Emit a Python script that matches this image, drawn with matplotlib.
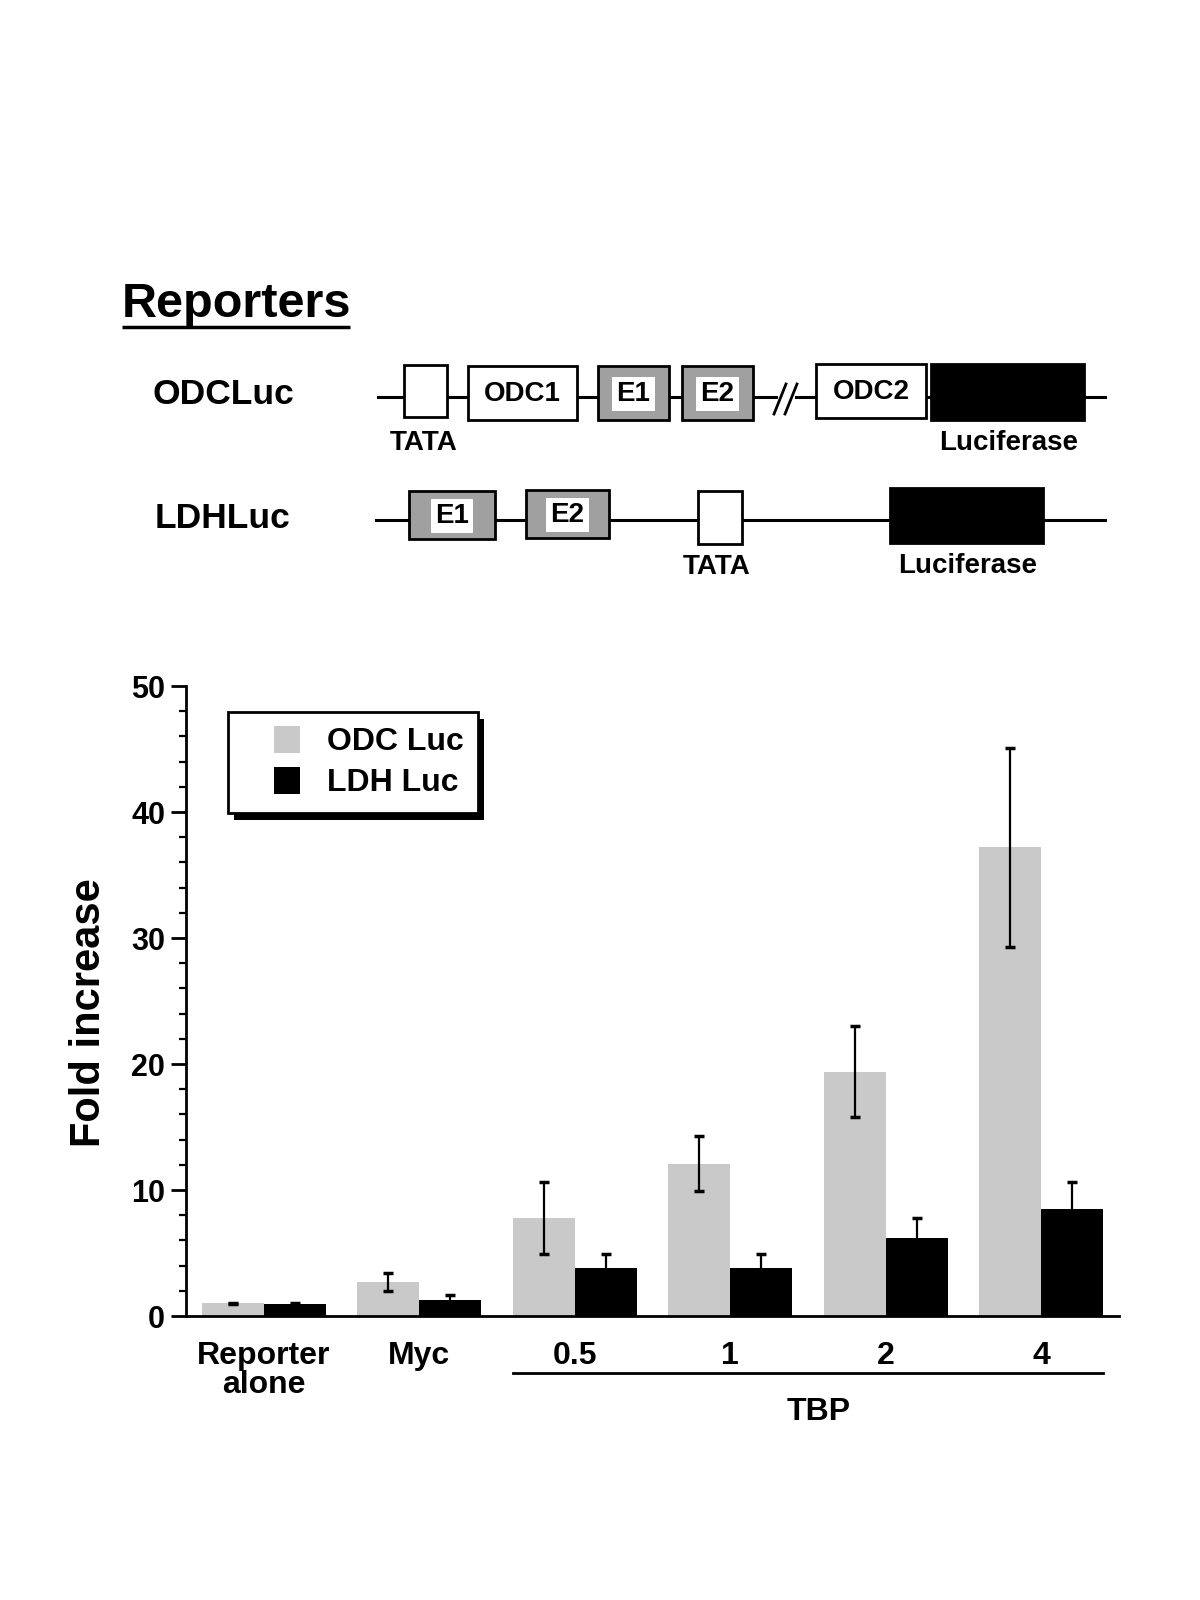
import numpy as np
import matplotlib.pyplot as plt
from matplotlib.patches import Rectangle
from matplotlib.ticker import MultipleLocator
from matplotlib.transforms import IdentityTransform, blended_transform_factory
from matplotlib.legend_handler import HandlerPatch

plt.rcParams['font.family'] = ['Liberation Sans', 'DejaVu Sans']
plt.rcParams['font.weight'] = 'bold'
plt.rcParams['axes.labelweight'] = 'bold'

# chart data
groups = ['Reporter\nalone', 'Myc', '0.5', '1', '2', '4']
odc = [1.0, 2.7, 7.8, 12.1, 19.4, 37.2]
odc_err = [0.05, 0.7, 2.85, 2.2, 3.6, 7.9]
ldh = [0.95, 1.3, 3.8, 3.8, 6.2, 8.5]
ldh_err = [0.08, 0.4, 1.15, 1.15, 1.55, 2.1]
series = ['ODC Luc', 'LDH Luc']

# reporter schematic (pixel layout): x0, x1, y0, y1, fill, label
odc_parts = [(404, 447, 365, 417, 'white', ''),
             (468, 577, 366, 420, 'white', 'ODC1'),
             (598, 669, 366, 420, 'gray', 'E1'),
             (682, 753, 366, 420, 'gray', 'E2'),
             (816, 926, 364, 418, 'white', 'ODC2'),
             (931, 1084, 364, 420, 'black', '')]
ldh_parts = [(409, 495, 491, 539, 'gray', 'E1'),
             (526, 609, 490, 538, 'gray', 'E2'),
             (698, 742, 491, 544, 'white', ''),
             (890, 1043, 488, 543, 'black', '')]
fills = {'white': 'white', 'gray': '#a0a0a0', 'black': 'black'}

fig = plt.figure(figsize=(12, 16), dpi=100)

# ---- schematic layer in pixel coords ----
sk = fig.add_axes([0, 0, 1, 1])
sk.set_xlim(0, 1200)
sk.set_ylim(1600, 0)
sk.axis('off')

sk.text(122, 317, 'Reporters', fontsize=35, ha='left', va='baseline')
sk.plot([122, 350], [327, 327], color='k', lw=2.5, solid_capstyle='butt')

sk.text(153, 394, 'ODCLuc', fontsize=25.5, ha='left', va='center')
sk.text(155, 519, 'LDHLuc', fontsize=25.5, ha='left', va='center')

# backbone lines
sk.plot([378, 776], [397, 397], color='k', lw=2.2)
sk.plot([796, 1105], [397, 397], color='k', lw=2.2)
sk.plot([774, 786], [414, 384], color='k', lw=2)
sk.plot([785, 797], [414, 384], color='k', lw=2)
sk.plot([376, 1105], [520, 520], color='k', lw=2.2)

for parts in (odc_parts, ldh_parts):
    for x0, x1, y0, y1, kind, lab in parts:
        sk.add_patch(Rectangle((x0, y0), x1 - x0, y1 - y0, facecolor=fills[kind],
                               edgecolor='k', lw=2, zorder=3))
        if lab:
            box = dict(facecolor='white', edgecolor='none', pad=3) if kind == 'gray' else None
            sk.text((x0 + x1) / 2, (y0 + y1) / 2 + 1, lab, fontsize=20, ha='center',
                    va='center', zorder=4, bbox=box)

sk.text(424, 443, 'TATA', fontsize=20, ha='center', va='center')
sk.text(1009, 443, 'Luciferase', fontsize=20, ha='center', va='center')
sk.text(717, 567, 'TATA', fontsize=20, ha='center', va='center')
sk.text(968, 566, 'Luciferase', fontsize=20, ha='center', va='center')

# ---- bar chart ----
ax = fig.add_axes([0.155, 0.1775, 0.7775, 0.39375])
x = np.arange(len(groups))
ekw = dict(ecolor='k', elinewidth=1.6, capsize=3.5, capthick=2.5)
b1 = ax.bar(x - 0.2, odc, 0.4, color='#c9c9c9', yerr=odc_err, error_kw=ekw)
b2 = ax.bar(x + 0.2, ldh, 0.4, color='black', yerr=ldh_err, error_kw=ekw)

ax.set_xlim(-0.5, 5.5)
ax.set_ylim(0, 50)
ax.yaxis.set_major_locator(MultipleLocator(10))
ax.yaxis.set_minor_locator(MultipleLocator(2))
ax.set_xticks(x)
ax.set_xticklabels(groups, fontsize=23, linespacing=0.95)
ax.tick_params(axis='x', length=0, pad=18)
ax.tick_params(axis='y', which='major', length=11, width=2, labelsize=22, pad=4)
ax.tick_params(axis='y', which='minor', length=5, width=1.6)
for s in ['top', 'right']:
    ax.spines[s].set_visible(False)
for s in ['left', 'bottom']:
    ax.spines[s].set_linewidth(2)

ax.set_ylabel('Fold increase', fontsize=30, fontweight='bold')
ax.yaxis.set_label_coords(-0.083, 0.481)

tr = blended_transform_factory(ax.transData, ax.transAxes)
ax.plot([1.6, 5.4], [-0.09, -0.09], color='k', lw=2, transform=tr, clip_on=False)
ax.text(3.57, -0.153, 'TBP', fontsize=23, ha='center', va='center', transform=tr)


def right_patch(legend, orig_handle, xdescent, ydescent, width, height, fontsize):
    hw = 0.8 * fontsize
    return Rectangle((-xdescent + width - hw, -ydescent), hw, height)


leg = ax.legend([b1.patches[0], b2.patches[0]], series, loc='upper left',
                bbox_to_anchor=(0.045, 0.959),
                borderaxespad=0, fontsize=23, fancybox=False, edgecolor='k',
                framealpha=1, borderpad=0.45, handlelength=1.8, handleheight=0.9,
                handletextpad=0.85, labelspacing=0.3,
                handler_map={Rectangle: HandlerPatch(patch_func=right_patch)})
leg.get_frame().set_linewidth(2)

fig.canvas.draw()
bb = leg.get_window_extent()
shadow = Rectangle((bb.x0 + 6, bb.y0 - 7), bb.width, bb.height, facecolor='k',
                   edgecolor='none', transform=IdentityTransform(), zorder=4.9,
                   clip_on=False)
ax.add_artist(shadow)

fig.savefig('out.png', dpi=100)
